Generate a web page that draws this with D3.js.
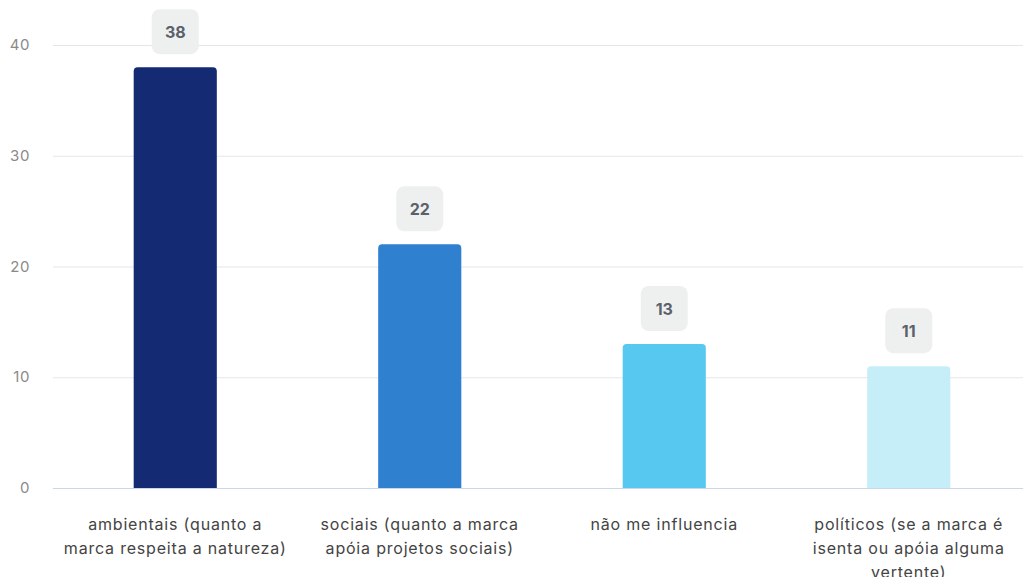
<!DOCTYPE html>
<html>
<head>
<meta charset="utf-8">
<script src="https://cdn.jsdelivr.net/npm/d3@7"></script>
<style>
  html, body { margin: 0; padding: 0; background: #fff; }
  svg { display: block; font-family: Inter, "Noto Sans", sans-serif; }
</style>
</head>
<body>
<svg id="chart" width="1023" height="577"></svg>
<script>
const categories = [
  ["ambientais (quanto a", "marca respeita a natureza)"],
  ["sociais (quanto a marca", "apóia projetos sociais)"],
  ["não me influencia"],
  ["políticos (se a marca é", "isenta ou apóia alguma", "vertente)"]
];
const values = [38, 22, 13, 11];
const colors = ["#142a73", "#3080d0", "#57c8ef", "#c6eef9"];
const yTicks = [0, 10, 20, 30, 40];

const svg = d3.select("#chart");
const plotLeft = 53, plotRight = 1031, plotTop = 45, plotBottom = 488;

const x = d3.scaleBand()
  .domain(d3.range(values.length))
  .range([plotLeft, plotRight])
  .paddingInner(0.66)
  .paddingOuter(0.33);

const y = d3.scaleLinear().domain([0, 40]).range([plotBottom, plotTop]);

// gridlines
svg.append("g").selectAll("line")
  .data(yTicks.filter(d => d > 0))
  .join("line")
  .attr("x1", plotLeft).attr("x2", plotRight)
  .attr("y1", d => y(d) + 0.5).attr("y2", d => y(d) + 0.5)
  .attr("stroke", "#e6e6e6").attr("stroke-width", 1);

// y tick labels
svg.append("g").selectAll("text")
  .data(yTicks)
  .join("text")
  .attr("x", 30).attr("y", d => y(d) + 5)
  .attr("text-anchor", "end")
  .attr("fill", "#8a8a8a")
  .attr("font-size", 15)
  .attr("letter-spacing", 0.6)
  .text(d => d);

// bars with rounded top corners
const r = 4;
svg.append("g").selectAll("path")
  .data(values)
  .join("path")
  .attr("fill", (d, i) => colors[i])
  .attr("d", (d, i) => {
    const x0 = x(i), w = x.bandwidth(), y0 = y(d), y1 = y(0);
    return `M${x0},${y1}V${y0 + r}Q${x0},${y0} ${x0 + r},${y0}H${x0 + w - r}Q${x0 + w},${y0} ${x0 + w},${y0 + r}V${y1}Z`;
  });

// baseline
svg.append("line")
  .attr("x1", plotLeft).attr("x2", plotRight)
  .attr("y1", y(0) + 0.5).attr("y2", y(0) + 0.5)
  .attr("stroke", "#ccd6eb").attr("stroke-width", 1);

// value badges
const badges = svg.append("g").selectAll("g")
  .data(values)
  .join("g")
  .attr("transform", (d, i) => `translate(${x(i) + x.bandwidth() / 2},${y(d) - 35})`);
badges.append("rect")
  .attr("x", -23.5).attr("y", -23).attr("width", 47).attr("height", 45)
  .attr("rx", 8)
  .attr("fill", "#eef0f0");
badges.append("text")
  .attr("text-anchor", "middle")
  .attr("y", 6)
  .attr("font-size", 16)
  .attr("font-weight", 700)
  .attr("fill", "#5a616b")
  .text(d => d);

// category labels
const labels = svg.append("g").selectAll("text")
  .data(categories)
  .join("text")
  .attr("text-anchor", "middle")
  .attr("fill", "#444")
  .attr("font-size", 16)
  .attr("letter-spacing", 0.8);
labels.each(function (lines, i) {
  d3.select(this).selectAll("tspan")
    .data(lines)
    .join("tspan")
    .attr("x", x(i) + x.bandwidth() / 2)
    .attr("y", (d, j) => 530 + j * 24)
    .text(d => d);
});
</script>
</body>
</html>
